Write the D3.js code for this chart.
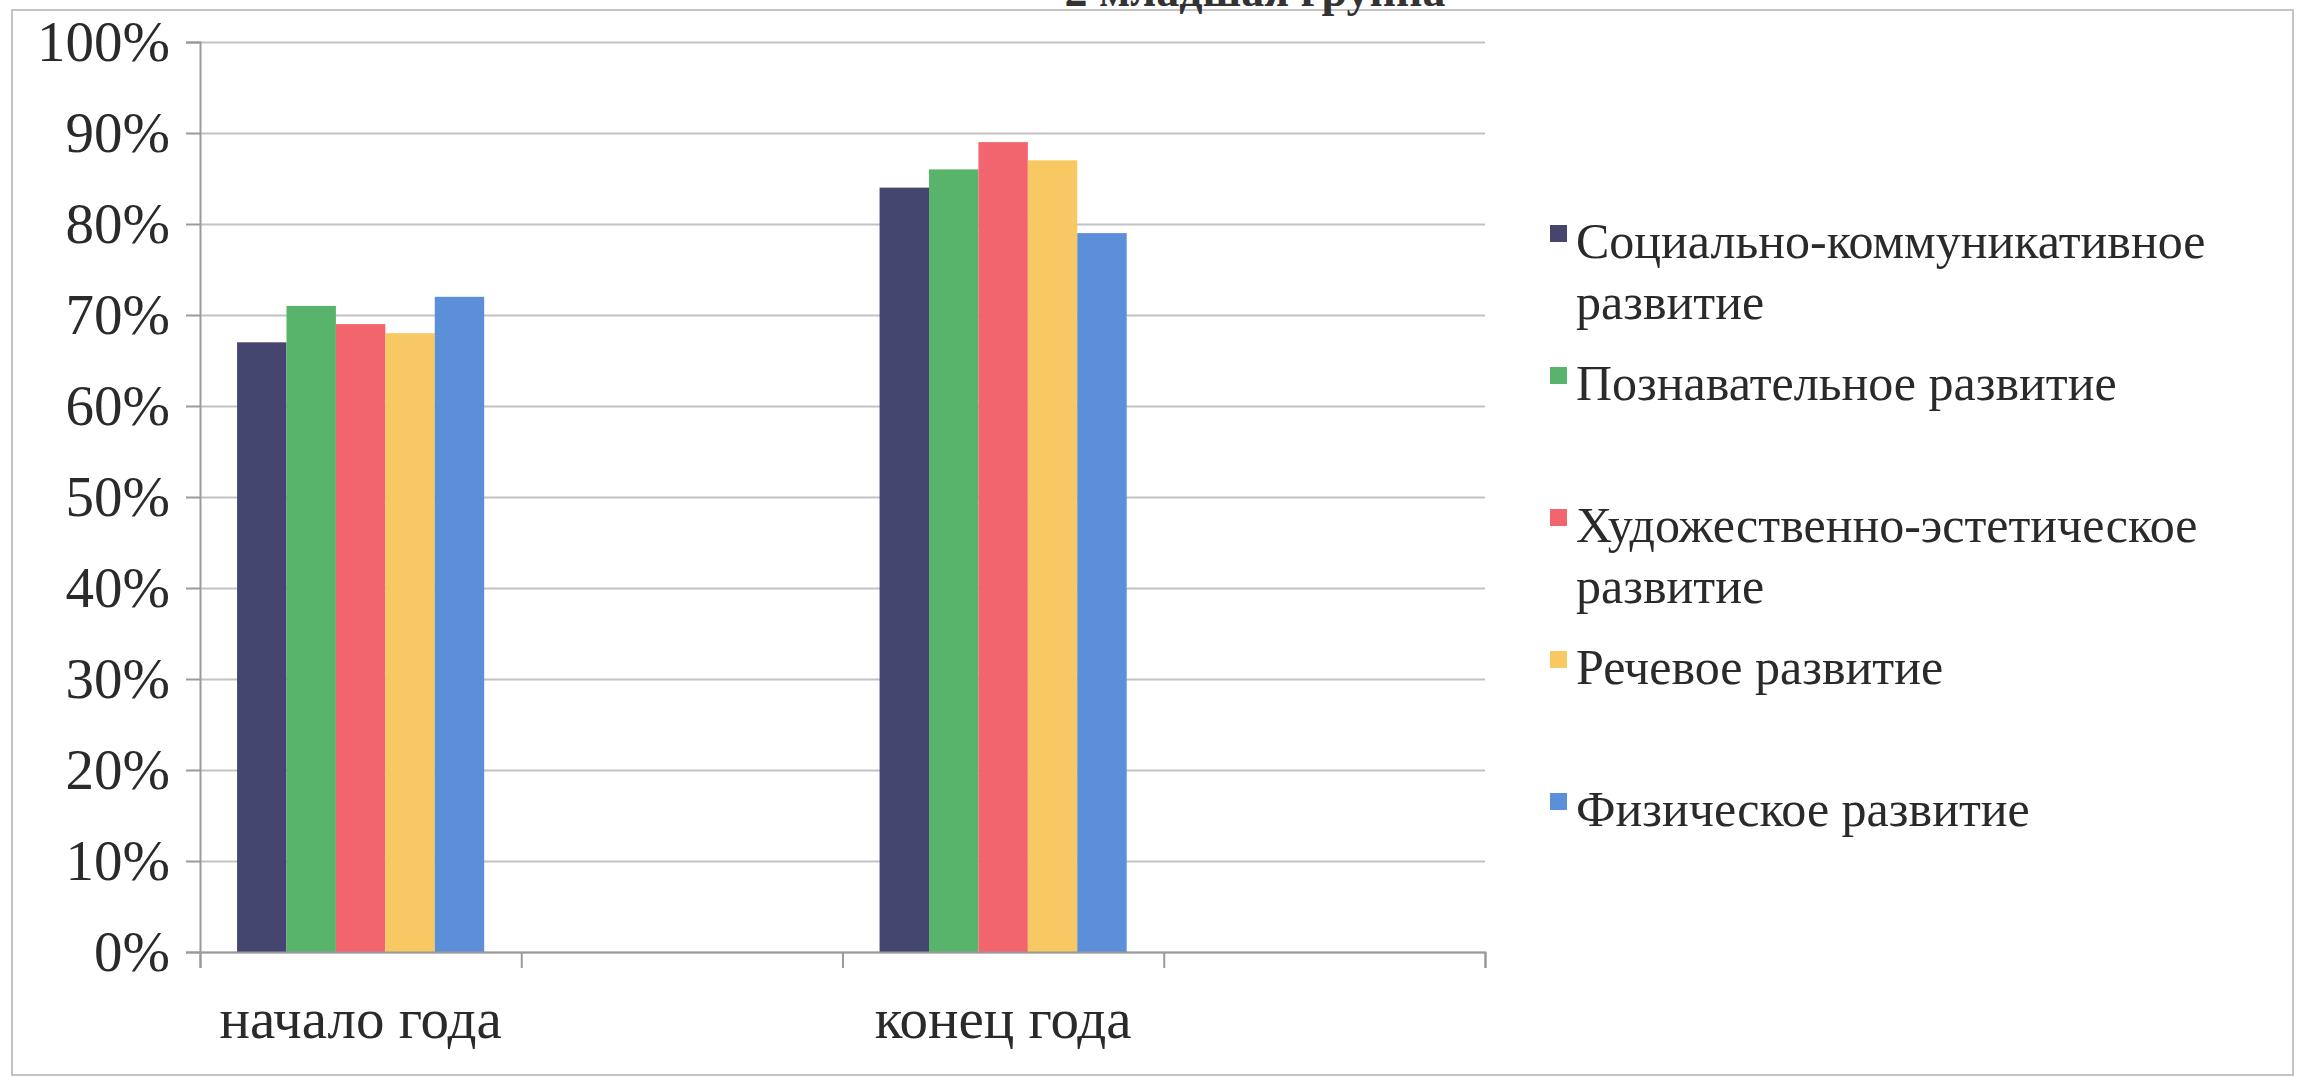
<!DOCTYPE html>
<meta charset="utf-8">
<script src="https://d3js.org/d3.v7.min.js"></script>
<style>
  body { margin: 0; background: #fff; }
</style>
<div id="chart"></div>
<script>

// data
var categories = ["начало года", "", "конец года", ""];
var seriesNames = ["Социально-коммуникативное развитие", "Познавательное развитие",
                   "Художественно-эстетическое развитие", "Речевое развитие", "Физическое развитие"];
var legendLines = [["Социально-коммуникативное", "развитие"], ["Познавательное развитие"],
                   ["Художественно-эстетическое", "развитие"], ["Речевое развитие"], ["Физическое развитие"]];
var socialValues    = [67, null, 84, null];
var cognitiveValues = [71, null, 86, null];
var artValues       = [69, null, 89, null];
var speechValues    = [68, null, 87, null];
var physicalValues  = [72, null, 79, null];
var yTicks = [0, 10, 20, 30, 40, 50, 60, 70, 80, 90, 100];
var title = "2 младшая группа";

var allValues = [socialValues, cognitiveValues, artValues, speechValues, physicalValues];
var colors = ["#45466f", "#58b46a", "#f2656f", "#f8c963", "#5b8fda"];

var W = 2299, H = 1081;
var plotLeft = 200, plotRight = 1485, plotTop = 42, plotBottom = 952;
var font = "'Liberation Serif', 'Times New Roman', serif";

var svg = d3.select("#chart").append("svg")
    .attr("width", W).attr("height", H)
    .style("font-family", font);

// outer frame
svg.append("rect")
    .attr("x", 12).attr("y", 10).attr("width", W - 18).attr("height", 1065)
    .attr("fill", "none").attr("stroke", "#c4c4c4").attr("stroke-width", 2);

// title (cut off at the top, like the scan)
svg.append("text")
    .attr("x", 1255).attr("y", 6)
    .attr("text-anchor", "middle")
    .style("font-size", "46px").style("font-weight", "bold").style("fill", "#333")
    .text(title);

var x = d3.scaleBand().domain(d3.range(categories.length)).range([plotLeft, plotRight]);
var x1 = d3.scaleBand().domain(d3.range(seriesNames.length)).range([0, x.bandwidth()])
    .paddingInner(0).paddingOuter(0.75);
var y = d3.scaleLinear().domain([0, 100]).range([plotBottom, plotTop]);

// gridlines
var grid = svg.append("g").attr("transform", "translate(" + plotLeft + ",0)")
    .call(d3.axisLeft(y).tickValues(yTicks).tickSize(-(plotRight - plotLeft)).tickFormat(""));
grid.select(".domain").remove();
grid.selectAll("line").attr("stroke", "#c2c2c2").attr("stroke-width", 2);

// y axis
var yAxis = svg.append("g").attr("transform", "translate(" + plotLeft + ",0)")
    .call(d3.axisLeft(y).tickValues(yTicks).tickSize(14).tickPadding(16)
      .tickFormat(function(d) { return d + "%"; }));
yAxis.select(".domain").attr("stroke", "#9a9a9a").attr("stroke-width", 2);
yAxis.selectAll("line").attr("stroke", "#9a9a9a").attr("stroke-width", 2);
yAxis.selectAll("text").style("font-size", "57px").style("fill", "#2a2a2a")
    .style("font-family", font);

// bars
allValues.forEach(function(vals, i) {
  svg.append("g").selectAll("rect")
    .data(vals.map(function(v, j) { return {v: v, j: j}; }).filter(function(d) { return d.v != null; }))
    .enter().append("rect")
      .attr("x", function(d) { return x(d.j) + x1(i); })
      .attr("y", function(d) { return y(d.v); })
      .attr("width", x1.bandwidth())
      .attr("height", function(d) { return y(0) - y(d.v); })
      .attr("fill", colors[i]);
});

// x axis with ticks at category edges
var xEdge = d3.scaleLinear().domain([0, categories.length]).range([plotLeft, plotRight]);
var xAxis = svg.append("g").attr("transform", "translate(0," + plotBottom + ")")
    .call(d3.axisBottom(xEdge).ticks(categories.length).tickSize(16).tickFormat(""));
xAxis.select(".domain").attr("stroke", "#9a9a9a").attr("stroke-width", 2);
xAxis.selectAll("line").attr("stroke", "#9a9a9a").attr("stroke-width", 2);

var xLabels = svg.append("g").attr("transform", "translate(0," + plotBottom + ")")
    .call(d3.axisBottom(x).tickSize(0).tickPadding(46).tickFormat(function(d) { return categories[d]; }));
xLabels.select(".domain").remove();
xLabels.selectAll("text").style("font-size", "57px").style("fill", "#2a2a2a")
    .style("font-family", font);

// legend
var legend = svg.append("g");
legendLines.forEach(function(lines, i) {
  var by = 258 + i * 142;
  legend.append("rect")
    .attr("x", 1550).attr("y", by - 33).attr("width", 17).attr("height", 17)
    .attr("fill", colors[i]);
  lines.forEach(function(t, k) {
    legend.append("text")
      .attr("x", 1576).attr("y", by + k * 61)
      .style("font-size", "50px").style("fill", "#2a2a2a")
      .text(t);
  });
});

</script>
